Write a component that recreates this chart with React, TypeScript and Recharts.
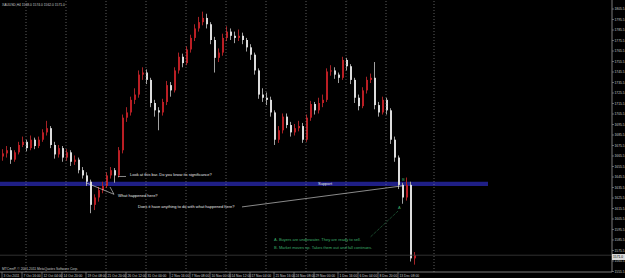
import {
  Bar,
  ComposedChart,
  ReferenceArea,
  ReferenceDot,
  ReferenceLine,
  XAxis,
  YAxis,
} from 'recharts'

// XAUUSD H4, Oct–Dec 2011 (one candle per slot)
const symbol = 'XAUUSD,H4'
const firstOpen = 1665
const closes = [
  1668, 1671, 1662, 1669, 1676, 1679, 1673, 1681, 1675, 1681,
  1688, 1692, 1676, 1667, 1673, 1664, 1669, 1660, 1662, 1652,
  1647, 1641, 1619, 1626, 1633, 1637, 1647, 1652, 1647, 1671,
  1702, 1707, 1719, 1724, 1743, 1745, 1738, 1716, 1709, 1707,
  1717, 1733, 1728, 1747, 1760, 1754, 1767, 1778, 1787, 1793,
  1797, 1791, 1776, 1759, 1764, 1778, 1784, 1780, 1778, 1780,
  1776, 1769, 1762, 1747, 1724, 1721, 1719, 1707, 1681, 1690,
  1703, 1695, 1688, 1692, 1694, 1681, 1702, 1715, 1709, 1716,
  1719, 1746, 1747, 1743, 1740, 1757, 1751, 1738, 1721, 1713,
  1728, 1738, 1740, 1714, 1707, 1719, 1709, 1681, 1664, 1638,
  1626, 1638, 1568, 1571,
]
const highs = [
  1672, 1675, 1674, 1671, 1679, 1684, 1681, 1685, 1683, 1684,
  1691, 1699, 1694, 1679, 1676, 1675, 1672, 1671, 1666, 1664,
  1655, 1650, 1643, 1629, 1636, 1641, 1650, 1655, 1654, 1674,
  1705, 1712, 1722, 1730, 1747, 1750, 1748, 1740, 1719, 1712,
  1720, 1737, 1736, 1750, 1764, 1763, 1770, 1781, 1791, 1798,
  1803, 1801, 1793, 1779, 1768, 1782, 1789, 1787, 1784, 1786,
  1783, 1778, 1772, 1764, 1749, 1730, 1726, 1722, 1709, 1694,
  1706, 1706, 1698, 1696, 1699, 1697, 1705, 1718, 1717, 1721,
  1724, 1749, 1752, 1750, 1745, 1760, 1759, 1753, 1740, 1724,
  1731, 1741, 1744, 1755, 1717, 1722, 1721, 1711, 1684, 1666,
  1640, 1645, 1641, 1574,
]
const lows = [
  1661, 1664, 1658, 1660, 1667, 1674, 1670, 1671, 1672, 1673,
  1679, 1685, 1673, 1663, 1664, 1660, 1661, 1656, 1657, 1649,
  1644, 1637, 1611, 1614, 1622, 1630, 1635, 1644, 1640, 1645,
  1668, 1698, 1704, 1715, 1721, 1738, 1734, 1712, 1703, 1690,
  1704, 1714, 1722, 1726, 1744, 1750, 1752, 1764, 1775, 1784,
  1790, 1787, 1772, 1745, 1755, 1761, 1775, 1776, 1773, 1775,
  1772, 1765, 1757, 1743, 1720, 1717, 1714, 1703, 1676, 1678,
  1687, 1692, 1684, 1685, 1689, 1678, 1679, 1699, 1705, 1706,
  1712, 1717, 1742, 1739, 1735, 1738, 1747, 1734, 1716, 1709,
  1711, 1725, 1735, 1710, 1703, 1705, 1705, 1677, 1660, 1634,
  1620, 1623, 1565, 1562,
]

const dateTicks = [0, 5, 10, 15, 21, 26, 31, 36, 42, 47, 52, 57, 62, 68, 73, 78, 84, 89, 94, 99]
const dateLabels = [
  '3 Oct 2011', '7 Oct 16:00', '12 Oct 04:00', '14 Oct 20:00', '19 Oct 08:00',
  '21 Oct 20:00', '26 Oct 12:00', '31 Oct 00:00', '2 Nov 16:00', '7 Nov 08:00',
  '10 Nov 00:00', '14 Nov 12:00', '17 Nov 04:00', '21 Nov 16:00', '24 Nov 08:00',
  '29 Nov 00:00', '1 Dec 16:00', '6 Dec 04:00', '8 Dec 20:00', '13 Dec 08:00',
]
const priceTicks = [
  1805.5, 1795.5, 1785.5, 1775.5, 1765.5, 1755.5, 1745.5, 1735.5, 1725.5, 1715.5,
  1705.5, 1695.5, 1685.5, 1675.5, 1665.5, 1655.5, 1645.5, 1635.5, 1625.5, 1615.5,
  1605.5, 1595.5, 1585.5, 1575.5, 1565.5, 1555.5,
]
const gridSlots = [6, 16, 26, 36, 46, 56, 66, 76, 86, 96, 108]
const slotCount = 153

const supportLow = 1637
const supportHigh = 1641
const supportEnd = 121

const W = 625
const H = 278
const FONT = '"Liberation Sans", Arial, sans-serif'
const UP = '#bb1e24'
const UP_WICK = '#a62226'
const DOWN = '#dcdcdc'
const DOWN_WICK = '#a0a0a0'
const NOTE = '#e6e6e6'
const GREEN = '#3cae6a'

const data = Array.from({ length: slotCount }, (_, i) => {
  if (i >= closes.length) return { i }
  const o = i === 0 ? firstOpen : closes[i - 1]
  return { i, o, h: highs[i], l: lows[i], c: closes[i], range: [lows[i], highs[i]] }
})
const last = data[closes.length - 1] as any

const notes = [
  { text: 'Look at this bar.  Do you know its significance?', idx: 32, price: 1647.4, color: NOTE },
  { text: 'What happened here?', idx: 29, price: 1627.4, color: NOTE },
  { text: 'Does it have anything to do with what happened here?', idx: 34, price: 1616.9, color: NOTE },
  { text: 'Support', idx: 79, price: 1639, color: NOTE },
  { text: 'A. Buyers are underwater.  They are ready to sell.', idx: 68, price: 1585.5, color: GREEN },
  { text: 'B. Market moves up.  Takes them out and fall continues.', idx: 68, price: 1578.4, color: GREEN },
  { text: 'B', idx: 100, price: 1643, color: GREEN },
  { text: 'A', idx: 99, price: 1616.5, color: GREEN },
]
const pointers = [
  { from: [29, 1646], to: [31, 1646], color: NOTE, dash: '' },
  { from: [21, 1640], to: [28, 1629], color: NOTE, dash: '' },
  { from: [27, 1636], to: [28, 1629], color: NOTE, dash: '' },
  { from: [60, 1617], to: [100, 1637], color: NOTE, dash: '' },
  { from: [99, 1613], to: [92, 1588], color: GREEN, dash: '1 1' },
]

const Candle = (props: any) => {
  const { x, y, width, height, payload } = props
  if (!payload || payload.c == null || !height) return <g />
  const { o, h, l, c } = payload
  const k = height / (h - l)
  const up = c >= o
  const top = y + (h - Math.max(o, c)) * k
  const bodyH = Math.max(1, Math.abs(o - c) * k)
  const mid = Math.floor(x + width / 2)
  return (
    <g>
      <line x1={mid + 0.5} x2={mid + 0.5} y1={y} y2={y + height} stroke={up ? UP_WICK : DOWN_WICK} strokeWidth={1} />
      <rect x={mid} y={top} width={2} height={bodyH} fill={up ? UP : DOWN} />
    </g>
  )
}

const PriceTick = ({ x, y, payload }: any) => (
  <g>
    <line x1={x - 2} x2={x} y1={y} y2={y} stroke="#9a9a9a" strokeWidth={0.6} />
    <text x={x + 0.5} y={y} dy={1.2} fontSize={3.3} fill="#c8c8c8" fontFamily={FONT}>
      {Number(payload.value).toFixed(1)}
    </text>
  </g>
)

const DateTick = ({ x, y, payload }: any) => {
  const k = dateTicks.indexOf(payload.value)
  return (
    <g>
      <line x1={x} x2={x} y1={y} y2={y + 6} stroke="#9a9a9a" strokeWidth={0.6} />
      <text x={x + 1.5} y={y + 4.6} fontSize={3.3} fill="#c8c8c8" fontFamily={FONT}>
        {dateLabels[k]}
      </text>
    </g>
  )
}

export default function App() {
  return (
    <div style={{ position: 'fixed', left: 0, top: 0, width: W, height: H, background: '#000' }}>
      <ComposedChart width={W} height={H} data={data} margin={{ top: 0, right: 0, bottom: 0, left: 0 }}>
        <XAxis
          dataKey="i"
          type="category"
          height={6}
          ticks={dateTicks}
          interval={0}
          tickSize={0}
          tickMargin={0}
          tick={<DateTick />}
          axisLine={{ stroke: '#9a9a9a', strokeWidth: 0.8 }}
        />
        <YAxis
          orientation="right"
          width={13}
          domain={[1555, 1814.1]}
          ticks={priceTicks}
          interval={0}
          allowDataOverflow
          tickSize={2}
          tickMargin={0}
          tickLine={false}
          tick={<PriceTick />}
          axisLine={{ stroke: '#9a9a9a', strokeWidth: 0.8 }}
        />
        {gridSlots.map((s) => (
          <ReferenceLine key={s} x={s} stroke="#9a9a9a" strokeWidth={0.6} strokeDasharray="1 2" />
        ))}
        <ReferenceArea x2={supportEnd} y1={supportLow} y2={supportHigh} fill="#1f1f86" fillOpacity={1} stroke="none" />
        <ReferenceLine y={last.c} stroke="#3c3c3c" strokeWidth={0.8} />
        <Bar dataKey="range" barSize={3} shape={<Candle />} isAnimationActive={false} />
        {pointers.map((p, k) => (
          <ReferenceLine
            key={k}
            segment={[{ x: p.from[0], y: p.from[1] }, { x: p.to[0], y: p.to[1] }]}
            stroke={p.color}
            strokeWidth={0.6}
            strokeDasharray={p.dash}
          />
        ))}
        {notes.map((n) => (
          <ReferenceDot
            key={n.text}
            x={n.idx}
            y={n.price}
            r={0}
            fill="none"
            stroke="none"
            label={(lp: any) => (
              <text
                x={lp.viewBox.x}
                y={lp.viewBox.y}
                dy={1.4}
                fontSize={4}
                fill={n.color}
                fontFamily={FONT}
              >
                {n.text}
              </text>
            )}
          />
        ))}
      </ComposedChart>
      <svg width={W} height={H} style={{ position: 'absolute', left: 0, top: 0, pointerEvents: 'none' }}>
        <text x={2} y={5.5} fontSize={3.3} fill="#c8c8c8" fontFamily={FONT}>
          {`${symbol}  ${last.o.toFixed(1)} ${last.h.toFixed(1)} ${last.l.toFixed(1)} ${last.c.toFixed(1)}`}
        </text>
        <text x={2} y={270} fontSize={3.3} fill="#c8c8c8" fontFamily={FONT}>
          MTCmnP, © 2001-2011 MetaQuotes Software Corp.
        </text>
        <rect x={612} y={254} width={13} height={6} fill="#d8d8d8" />
        <text x={613} y={258.3} fontSize={3.3} fill="#000" fontFamily={FONT}>
          {last.c.toFixed(1)}
        </text>
      </svg>
    </div>
  )
}
